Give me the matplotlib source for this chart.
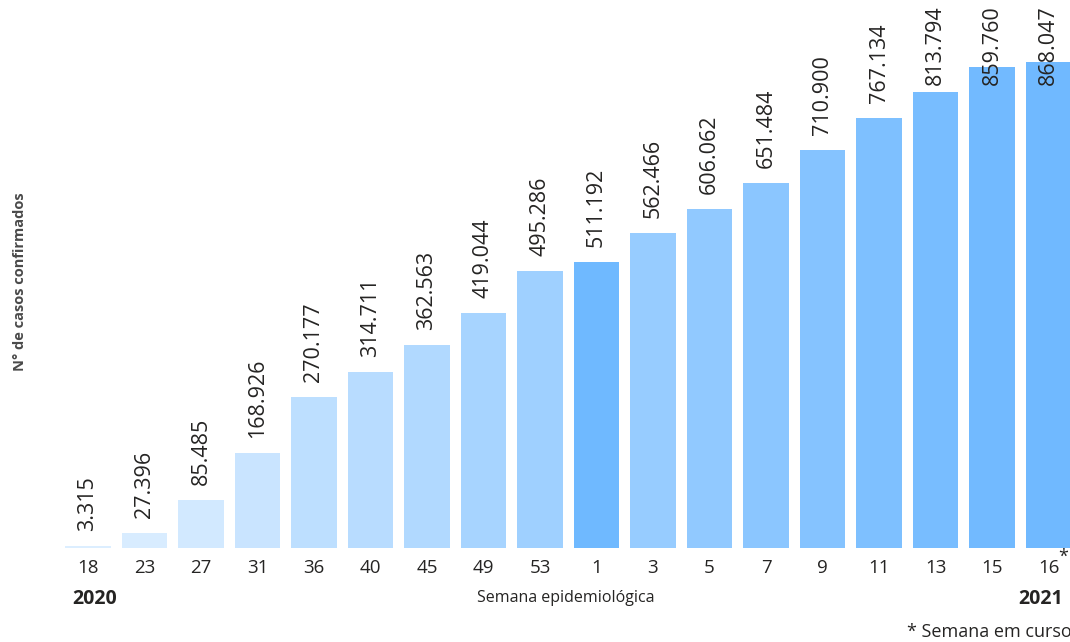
import matplotlib
matplotlib.use("Agg")
import matplotlib.pyplot as plt

weeks = ["18", "23", "27", "31", "36", "40", "45", "49", "53", "1", "3", "5", "7", "9", "11", "13", "15", "16"]
cases = [3315, 27396, 85485, 168926, 270177, 314711, 362563, 419044, 495286,
         511192, 562466, 606062, 651484, 710900, 767134, 813794, 859760, 868047]
colors = ["#DCEEFF", "#D8ECFF", "#D2E9FF", "#C9E4FF", "#BDDFFF", "#B8DCFF", "#B1D9FF", "#A7D4FF", "#9FD0FF",
          "#6FB9FF", "#97CCFF", "#91C9FF", "#8BC6FF", "#85C3FF", "#7EC0FF", "#78BDFF", "#72BAFF", "#70B9FF"]

def fmt(v):
    return f"{v:,}".replace(",", ".")

plt.rcParams['font.family'] = ['Open Sans', 'DejaVu Sans']

W, H = 1070, 642
fig = plt.figure(figsize=(W / 100, H / 100), dpi=100)
ax_left, ax_right, ax_top, ax_bottom = 58, 1070, 5, 548
ax = fig.add_axes([ax_left / W, 1 - ax_bottom / H, (ax_right - ax_left) / W, (ax_bottom - ax_top) / H])

x = list(range(len(weeks)))
ax.bar(x, cases, width=0.81, color=colors, edgecolor="none")
ymax = 868047 * (548 - 5) / (548 - 62)
ax.set_ylim(0, ymax)
ax.set_xlim(-0.53, 17.38)

fs_lab = 15.5
px = ymax / (ax_bottom - ax_top)
for i, v in enumerate(cases):
    s = fmt(v)
    em = fs_lab * 100 / 72
    est_len = 0.572 * em * (len(s) - 1) + 0.25 * em
    y = min(v + 15 * px, ymax - (est_len + 1) * px)
    ax.text(i, y, s, rotation=90, ha="center", va="bottom", fontsize=fs_lab, color="#252423")

for s in ax.spines.values():
    s.set_visible(False)
ax.set_yticks([])
ax.set_xticks(x)
ax.set_xticklabels(weeks, fontsize=13.5, color="#252423")
ax.tick_params(axis="x", length=0, pad=8)

fig.text(1063 / W, 1 - 557 / H, "*", fontsize=13, color="#252423", ha="center", va="center")
fig.text(95 / W, 1 - 599 / H, "2020", fontsize=14, fontweight="bold", color="#252423", ha="center", va="center")
fig.text(1063 / W, 1 - 599 / H, "2021", fontsize=14, fontweight="bold", color="#252423", ha="right", va="center")
fig.text(566 / W, 1 - 598 / H, "Semana epidemiológica", fontsize=11.5, color="#252423", ha="center", va="center")
fig.text(1072 / W, 1 - 632 / H, "* Semana em curso", fontsize=13, color="#252423", ha="right", va="center")
fig.text(20 / W, 1 - 282 / H, "N° de casos confirmados", fontsize=10.5, fontweight="bold", color="#4a4a4a",
         rotation=90, ha="center", va="center")

fig.savefig("out.png", dpi=100)
